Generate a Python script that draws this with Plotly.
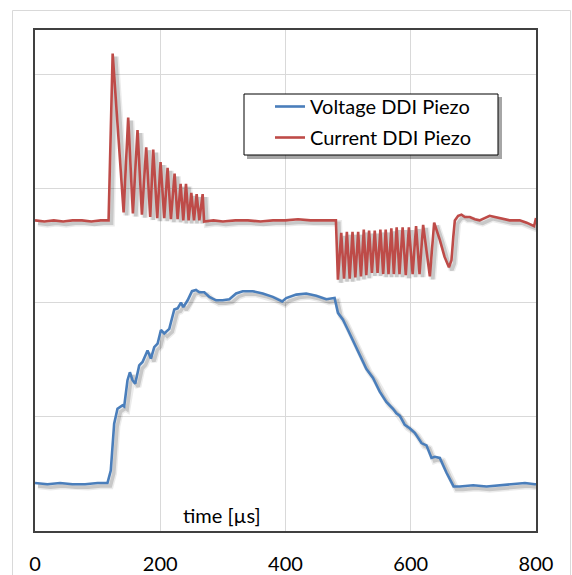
import plotly.graph_objects as go

# ---- data (time in µs, signals in grid units) ----
volt_t = [0, 20, 40, 60, 80, 100, 115.7, 121, 126.4, 131.7, 139.7, 142.4, 147.7, 151.5, 155.7, 160,
          166.4, 171.7, 179.7, 185.1, 190.4, 195.7, 201.1, 206.4, 214.4, 222.4, 227.7, 233.1, 236.8,
          243.7, 250.7, 257.1, 262.4, 270.4, 278.4, 289.1, 299.7, 310.4, 321.1, 331.7, 347.7, 363.7,
          379.7, 394.7, 401.1, 417.1, 433.1, 449.1, 465.1, 478.4, 483.7, 491.7, 499.7, 507.7, 515.7,
          523.7, 529, 539.7, 550.4, 561, 571.7, 577, 582.4, 590.4, 598.4, 606.4, 617.1, 625.1, 633.1,
          638.4, 646.4, 657.1, 668.4, 678.4, 699.7, 721.1, 742.4, 763.7, 782.4, 798.4, 800]
volt_v = [0.42, 0.41, 0.42, 0.41, 0.41, 0.42, 0.42, 0.53, 0.94, 1.07, 1.10, 1.09, 1.32, 1.39, 1.32, 1.29,
          1.45, 1.48, 1.58, 1.51, 1.61, 1.64, 1.76, 1.73, 1.77, 1.94, 1.95, 2.00, 1.96,
          2.02, 2.10, 2.11, 2.09, 2.09, 2.05, 2.02, 2.02, 2.03, 2.08, 2.10, 2.10, 2.08,
          2.05, 2.01, 2.04, 2.07, 2.08, 2.06, 2.03, 2.04, 1.91, 1.85, 1.76, 1.67, 1.57,
          1.48, 1.42, 1.34, 1.22, 1.13, 1.07, 1.03, 1.01, 0.93, 0.90, 0.86, 0.77, 0.75, 0.64,
          0.65, 0.64, 0.51, 0.39, 0.39, 0.40, 0.39, 0.40, 0.41, 0.42, 0.41, 0.41]

cur_t = [0, 15, 30, 45, 60, 75, 90, 105, 117.5,
         124, 141.5, 148.8, 156.3, 163.7, 170.7, 177.6, 184, 188.8, 195.2, 200.5, 206.4, 211.7, 217,
         222.9, 227.7, 232.5, 236.8, 241.1, 245.3, 249.6, 253.9, 258.1, 262.4, 267.7, 270,
         285, 300, 320, 340, 360, 380, 400, 420, 440, 460, 480.5,
         483.7, 489, 493.5, 498, 502.5, 507, 511.5, 516, 520.5, 525, 529, 533.5, 538, 542.5, 547,
         551.5, 556, 560, 564.5, 569, 573, 577.5, 582, 587, 592, 597, 603, 608.5, 614, 619.8, 630.5,
         637.4, 646.4, 654, 661, 665, 668, 670.4, 675.7, 681, 686.3, 694.3, 702.3, 710, 726, 742,
         758, 774, 785, 797, 800]
cur_v = [2.72, 2.71, 2.72, 2.71, 2.72, 2.72, 2.71, 2.72, 2.72,
         4.18, 2.79, 3.62, 2.78, 3.51, 2.77, 3.36, 2.75, 3.34, 2.74, 3.23, 2.74, 3.18, 2.73,
         3.13, 2.73, 3.04, 2.72, 3.04, 2.72, 2.96, 2.72, 2.95, 2.72, 2.95, 2.71,
         2.72, 2.71, 2.72, 2.72, 2.71, 2.72, 2.72, 2.73, 2.72, 2.72, 2.72,
         2.20, 2.61, 2.21, 2.62, 2.21, 2.62, 2.22, 2.62, 2.23, 2.64, 2.24, 2.63, 2.26, 2.63, 2.26,
         2.64, 2.25, 2.64, 2.25, 2.65, 2.25, 2.66, 2.25, 2.66, 2.24, 2.66, 2.25, 2.67, 2.25, 2.68, 2.23,
         2.70, 2.55, 2.40, 2.31, 2.37, 2.58, 2.72, 2.76, 2.77, 2.75, 2.75, 2.73, 2.72, 2.76, 2.74,
         2.72, 2.72, 2.70, 2.67, 2.74]

x_ticks = [0, 200, 400, 600, 800]
names = ["Voltage DDI Piezo", "Current DDI Piezo"]
colors = ["#4A7EBB", "#BE4B48"]

# ---- layout geometry ----
W, H = 572, 575
ML, MR, MT, MB = 35, 36, 30, 44
PW, PH = W - ML - MR, H - MT - MB
X_RANGE = [0, 800]
Y_RANGE = [0, 4.387]
SH = 3  # shadow offset in px
dx = SH * (X_RANGE[1] - X_RANGE[0]) / PW
dy = SH * (Y_RANGE[1] - Y_RANGE[0]) / PH

FONT = "Lato, 'Open Sans', sans-serif"

fig = go.Figure()
series = [(volt_t, volt_v), (cur_t, cur_v)]
# shadows (base axes, shifted range)
for (t, v) in series:
    fig.add_trace(go.Scatter(x=t, y=v, mode="lines", xaxis="x", yaxis="y",
                             line=dict(color="rgba(0,0,0,0.08)", width=6.5),
                             showlegend=False, hoverinfo="skip"))
    fig.add_trace(go.Scatter(x=t, y=v, mode="lines", xaxis="x", yaxis="y",
                             line=dict(color="rgba(0,0,0,0.15)", width=3.5),
                             showlegend=False, hoverinfo="skip"))
# main lines
for i, (t, v) in enumerate(series):
    fig.add_trace(go.Scatter(x=t, y=v, mode="lines", name=names[i], xaxis="x2", yaxis="y2",
                             line=dict(color=colors[i], width=2.6), legendgroup=f"g{i}"))

def px_x(p):
    return (p - ML) / PW

def px_y(p):
    return (H - MB - p) / PH

shapes = [
    # outer chart frame
    dict(type="rect", xref="paper", yref="paper", x0=px_x(12.5), x1=px_x(570.5),
         y0=px_y(600), y1=px_y(10.5), line=dict(color="#D9D9D9", width=1), layer="below"),
    # legend shadow
    dict(type="rect", xref="paper", yref="paper", x0=px_x(247), x1=px_x(502),
         y0=px_y(159), y1=px_y(97), line=dict(width=0), fillcolor="rgba(0,0,0,0.35)", layer="above"),
    # legend box
    dict(type="rect", xref="paper", yref="paper", x0=px_x(244), x1=px_x(498),
         y0=px_y(155), y1=px_y(94), line=dict(color="#000000", width=1), fillcolor="white", layer="above"),
]

fig.update_layout(
    template="none",
    width=W, height=H,
    margin=dict(l=ML, r=MR, t=MT, b=MB, pad=0, autoexpand=False),
    paper_bgcolor="white", plot_bgcolor="white",
    font=dict(family=FONT, size=20, color="#000000"),
    showlegend=True,
    legend=dict(x=px_x(270), y=px_y(87), xanchor="left", yanchor="top",
                bgcolor="rgba(0,0,0,0)", borderwidth=0, tracegroupgap=2,
                font=dict(family=FONT, size=20, color="#000000")),
    xaxis=dict(range=[X_RANGE[0] - dx, X_RANGE[1] - dx], visible=False, fixedrange=True,
               automargin=False),
    yaxis=dict(range=[Y_RANGE[0] + dy, Y_RANGE[1] + dy], visible=False, fixedrange=True,
               automargin=False),
    xaxis2=dict(range=X_RANGE, overlaying="x", anchor="y2", side="bottom", automargin=False,
                tickvals=x_ticks, ticktext=[str(v) for v in x_ticks],
                showgrid=True, gridcolor="#D9D9D9", gridwidth=1, zeroline=False,
                showline=True, mirror=True, linecolor="#404040", linewidth=1.5,
                ticks="", ticklabelstandoff=14,
                tickfont=dict(family=FONT, size=20, color="#000000")),
    yaxis2=dict(range=Y_RANGE, overlaying="y", anchor="x2", side="left", automargin=False,
                dtick=1, tick0=0, showticklabels=False,
                showgrid=True, gridcolor="#D9D9D9", gridwidth=1, zeroline=False,
                showline=True, mirror=True, linecolor="#404040", linewidth=1.5, ticks=""),
    shapes=shapes,
    annotations=[dict(text="time [µs]", x=299, xref="x2", y=px_y(515), yref="paper",
                      showarrow=False, xanchor="center", yanchor="middle",
                      font=dict(family=FONT, size=20, color="#000000"))],
)

fig.write_html("out.html", config={"displayModeBar": False},
               post_script="document.body.style.margin='0px';document.body.style.overflow='hidden';")
